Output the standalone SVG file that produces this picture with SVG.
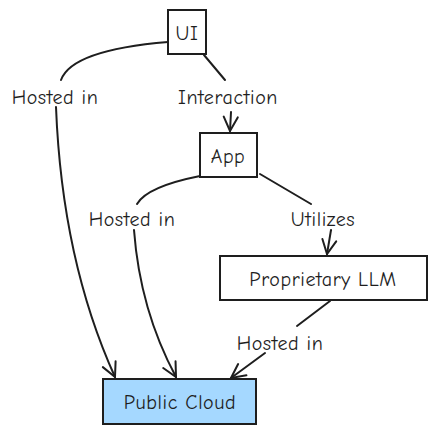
<svg xmlns="http://www.w3.org/2000/svg" width="436" height="434" viewBox="0 0 436 434">
<defs>
<style>
.box{fill:#ffffff;stroke:#1e1e1e;stroke-width:2}
.cloud{fill:#a5d8ff;stroke:#1e1e1e;stroke-width:2}
.t{font-family:"Comic Neue","Liberation Sans",sans-serif;font-size:20px;letter-spacing:0.6px;fill:#1e1e1e;text-anchor:middle;dominant-baseline:central}
.e{fill:none;stroke:#1e1e1e;stroke-width:2;stroke-linecap:round}
</style>
<marker id="ah" viewBox="0 0 20 20" refX="18" refY="10" markerWidth="20" markerHeight="20" markerUnits="userSpaceOnUse" orient="auto">
<path d="M4,3 L18,10 L4,17" fill="none" stroke="#1e1e1e" stroke-width="2" stroke-linecap="round"/>
</marker>
</defs>
<rect width="436" height="434" fill="#ffffff"/>
<g id="connectors">
<path class="e" d="M168,42 C120,46 70,55 61,80"/>
<path class="e" d="M56,107 Q62,260 115,377" marker-end="url(#ah)"/>
<path class="e" d="M204,55 L225,80"/>
<path class="e" d="M231,112 L230,131" marker-end="url(#ah)"/>
<path class="e" d="M200,176 C170,182 145,190 137,204"/>
<path class="e" d="M134,230 Q140,310 176,377" marker-end="url(#ah)"/>
<path class="e" d="M260,174 L311,204"/>
<path class="e" d="M331,230 L327,254" marker-end="url(#ah)"/>
<path class="e" d="M330,301 L297,326"/>
<path class="e" d="M265,353 L231,378" marker-end="url(#ah)"/>
</g>
<g id="labels">
<text class="t" x="55" y="97">Hosted in</text>
<text class="t" x="228" y="97">Interaction</text>
<text class="t" x="132" y="219">Hosted in</text>
<text class="t" x="323" y="219">Utilizes</text>
<text class="t" x="280" y="343">Hosted in</text>
</g>
<g id="ui"><rect class="box" x="168" y="10" width="38" height="44"/><text class="t" x="187" y="33">UI</text></g>
<g id="app"><rect class="box" x="200" y="133" width="57" height="44"/><text class="t" x="228" y="156">App</text></g>
<g id="llm"><rect class="box" x="220" y="256" width="207" height="44"/><text class="t" x="323" y="279">Proprietary LLM</text></g>
<g id="cloud"><rect class="cloud" x="103" y="379" width="153" height="45"/><text class="t" x="180" y="402">Public Cloud</text></g>
</svg>
